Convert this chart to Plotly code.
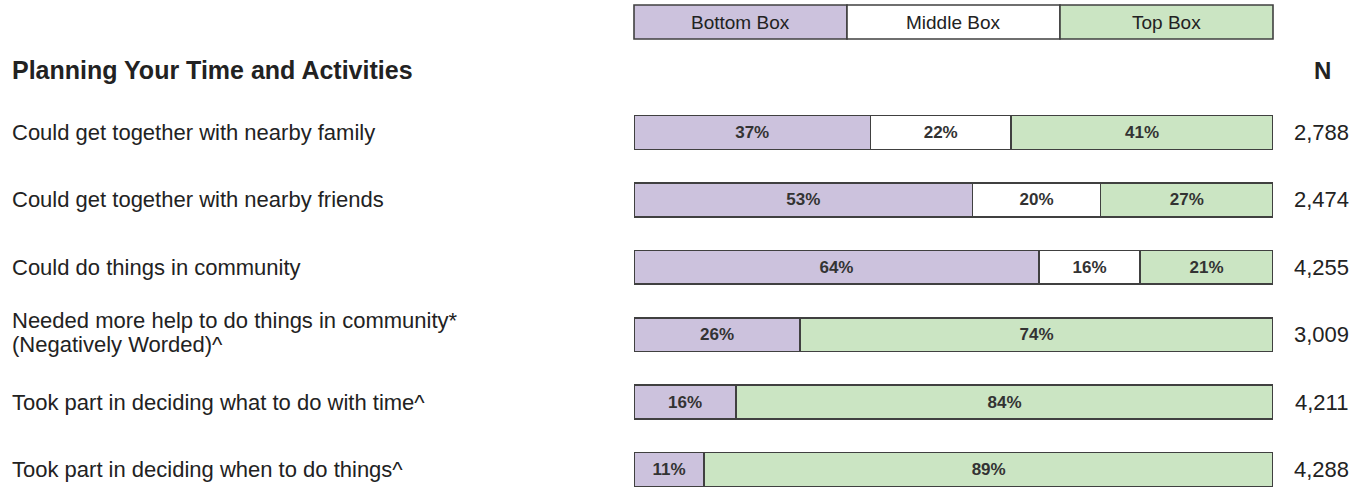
import plotly.graph_objects as go

W, H = 1366, 487

section_title = "Planning Your Time and Activities"
categories = [
    "Could get together with nearby family",
    "Could get together with nearby friends",
    "Could do things in community",
    "Needed more help to do things in community*<br>(Negatively Worded)^",
    "Took part in deciding what to do with time^",
    "Took part in deciding when to do things^",
]
bottom_box = [37, 53, 64, 26, 16, 11]
middle_box = [22, 20, 16, 0, 0, 0]
top_box = [41, 27, 21, 74, 84, 89]
n_values = ["2,788", "2,474", "4,255", "3,009", "4,211", "4,288"]
series_names = ["Bottom Box", "Middle Box", "Top Box"]
colors = ["#CCC2DD", "#FFFFFF", "#CBE5C3"]

FONT = "Liberation Sans, Arial, sans-serif"
TXT = "#222222"
EDGE = "#404040"

rows = list(range(len(categories)))
totals = [b + m + t for b, m, t in zip(bottom_box, middle_box, top_box)]

fig = go.Figure()
for name, vals, col in zip(series_names, [bottom_box, middle_box, top_box], colors):
    scaled = [v * 100.0 / tot for v, tot in zip(vals, totals)]
    fig.add_trace(go.Bar(
        name=name, y=rows, x=scaled, orientation="h",
        marker=dict(color=col, line=dict(color=EDGE, width=1.6)),
        width=0.5,
        text=[f"{v}%" if v > 0 else "" for v in vals],
        textposition="inside", insidetextanchor="middle", textangle=0,
        textfont=dict(family=FONT, size=17, color="#333333", weight="bold"),
        hoverinfo="skip", showlegend=False,
    ))

ROW_PX = 67.4
x0p, x1p = 634 / W, 1273 / W
fig.update_layout(
    barmode="stack", width=W, height=H,
    margin=dict(l=0, r=0, t=0, b=0),
    paper_bgcolor="white", plot_bgcolor="white",
    xaxis=dict(domain=[x0p, x1p], range=[0, 100], visible=False, fixedrange=True),
    yaxis=dict(range=[5.26, -1.966], visible=False, fixedrange=True),
    font=dict(family=FONT, color=TXT),
)

annotations = []
# row labels
for i, c in enumerate(categories):
    lines = c.split("<br>")
    if len(lines) == 1:
        offsets = [0.0]
    else:
        offsets = [(-14 + 24 * k) / ROW_PX for k in range(len(lines))]
    for ln, off in zip(lines, offsets):
        annotations.append(dict(
            x=10 / W, xref="paper", y=i + off, yref="y", text=ln, showarrow=False,
            xanchor="left", yanchor="middle", align="left",
            font=dict(family=FONT, size=22, color=TXT)))
    annotations.append(dict(
        x=1321 / W, xref="paper", y=i, yref="y", text=n_values[i], showarrow=False,
        xanchor="center", yanchor="middle",
        font=dict(family=FONT, size=22, color=TXT)))
# headers
annotations.append(dict(
    x=10 / W, xref="paper", y=1 - 70 / H, yref="paper", text=f"<b>{section_title}</b>",
    showarrow=False, xanchor="left", yanchor="middle",
    font=dict(family=FONT, size=25, color=TXT)))
annotations.append(dict(
    x=1322 / W, xref="paper", y=1 - 70 / H, yref="paper", text="<b>N</b>",
    showarrow=False, xanchor="center", yanchor="middle",
    font=dict(family=FONT, size=24, color=TXT)))

# legend boxes
shapes = []
lx0, lx1 = 634, 1273
ly0, ly1 = 5, 39
seg = (lx1 - lx0) / 3
for k, (name, col) in enumerate(zip(series_names, colors)):
    a = lx0 + k * seg
    b = a + seg
    shapes.append(dict(type="rect", xref="paper", yref="paper",
                       x0=a / W, x1=b / W, y0=1 - ly1 / H, y1=1 - ly0 / H,
                       fillcolor=col, line=dict(color=EDGE, width=1.6)))
    annotations.append(dict(
        x=(a + b) / 2 / W, xref="paper", y=1 - (ly0 + ly1) / 2 / H, yref="paper",
        text=name, showarrow=False, xanchor="center", yanchor="middle",
        font=dict(family=FONT, size=19, color=TXT)))

fig.update_layout(annotations=annotations, shapes=shapes)
fig.write_html("out.html", config={"displayModeBar": False},
               post_script="document.body.style.margin='0px';")
